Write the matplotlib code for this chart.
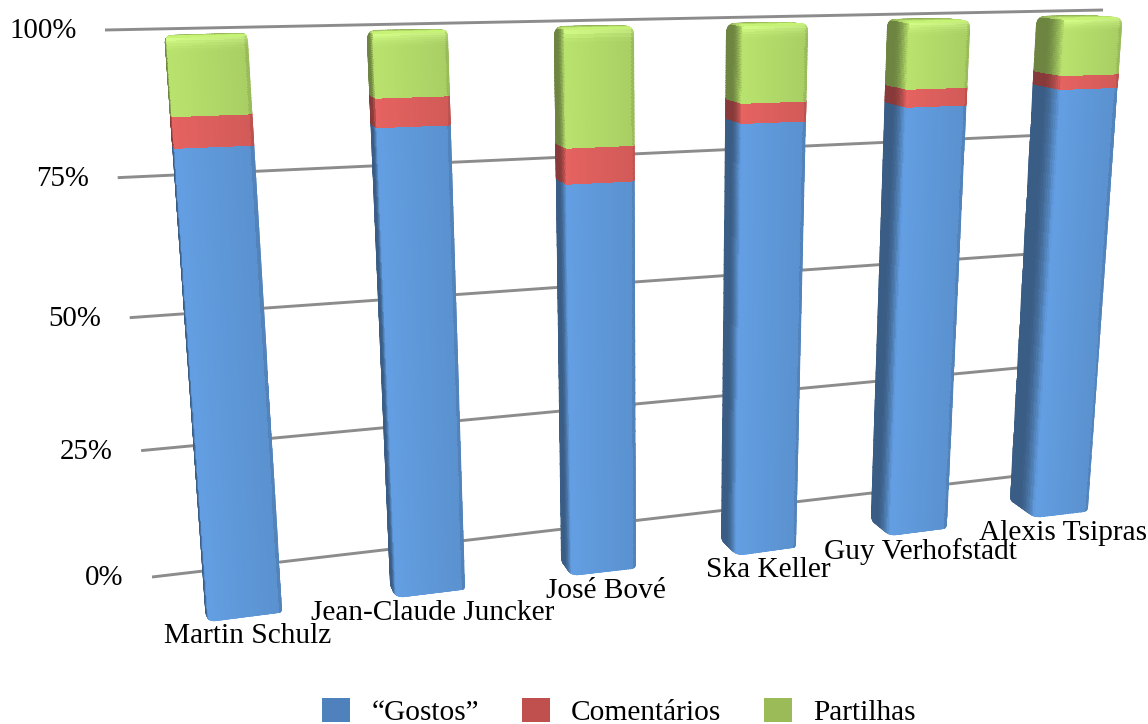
import numpy as np
import matplotlib
matplotlib.use("Agg")
import matplotlib.pyplot as plt
from matplotlib.patches import Patch
from matplotlib.path import Path

candidates = ["Martin Schulz", "Jean-Claude Juncker", "José Bové", "Ska Keller", "Guy Verhofstadt", "Alexis Tsipras"]
gostos = [82.4, 84.5, 73.4, 82.8, 84.6, 86.9]
comentarios = [5.1, 4.9, 6.3, 3.6, 3.3, 2.6]
partilhas = [12.5, 10.6, 20.3, 13.6, 12.1, 10.5]
series_names = ["“Gostos”", "Comentários", "Partilhas"]
legend_colors = ["#4F81BD", "#C0504D", "#9BBB59"]
y_ticks = [0, 25, 50, 75, 100]

# face colours of the bars
face_colors = [(0.38, 0.61, 0.87), (0.88, 0.38, 0.37), (0.71, 0.87, 0.42)]

bar_w = 0.38
x_min, x_max = -bar_w / 2, 5 + bar_w / 2


def homography(src, dst):
    rows, rhs = [], []
    for (x, y), (u, v) in zip(src, dst):
        rows.append([x, y, 1, 0, 0, 0, -u * x, -u * y])
        rows.append([0, 0, 0, x, y, 1, -v * x, -v * y])
        rhs += [u, v]
    return np.append(np.linalg.solve(np.array(rows, float), np.array(rhs, float)), 1).reshape(3, 3)


def apply_h(h, x, y):
    x, y = np.asarray(x, float), np.asarray(y, float)
    w = h[2, 0] * x + h[2, 1] * y + h[2, 2]
    return (h[0, 0] * x + h[0, 1] * y + h[0, 2]) / w, (h[1, 0] * x + h[1, 1] * y + h[1, 2]) / w


# perspective planes: front of the bars, back of the bars, rear wall
plane = [(x_min, 0), (x_max, 0), (x_min, 100), (x_max, 100)]
front_h = homography(plane, [(209, 622), (1088, 511), (167, 37), (1122, 18)])
back_h = homography(plane, [(205, 611), (1061, 494), (164, 35), (1091, 15)])
wall_h = homography([(0, 0), (1, 0), (0, 100), (1, 100)], [(152, 577), (1060, 471), (105, 30), (1103, 10)])


def project(x, y, z=0.0):
    fx, fy = apply_h(front_h, x, y)
    bx, by = apply_h(back_h, x, y)
    return (1 - z) * fx + z * bx, (1 - z) * fy + z * by


def rounded_outline(points, radii):
    verts, codes = [], []
    n = len(points)
    for i in range(n):
        p = np.array(points[i], float)
        prev_p = np.array(points[i - 1], float)
        next_p = np.array(points[(i + 1) % n], float)
        r = radii[i]
        a = p + (prev_p - p) * min(r / np.linalg.norm(prev_p - p), 0.5)
        b = p + (next_p - p) * min(r / np.linalg.norm(next_p - p), 0.5)
        verts.append(a)
        codes.append(Path.MOVETO if i == 0 else Path.LINETO)
        verts += [p, b]
        codes += [Path.CURVE3, Path.CURVE3]
    verts.append(verts[0])
    codes.append(Path.CLOSEPOLY)
    return Path(verts, codes)


def draw_mesh(ax, xs, ys, colors, clip):
    mesh = ax.pcolormesh(xs, ys, np.clip(colors, 0, 1), shading="flat", edgecolors="face", linewidth=0.3, zorder=3)
    mesh.set_clip_path(clip, transform=ax.transData)


def draw_bar(ax, i, values):
    x0, x1 = i - bar_w / 2, i + bar_w / 2
    outline_pts = [project(x0, 0, 1), project(x0, 100, 1), project(x1, 100, 1),
                   project(x1, 100, 0), project(x1, 0, 0), project(x0, 0, 0)]
    clip = rounded_outline(outline_pts, [4, 9, 8, 7, 4, 7])

    base = 0.0
    for k, val in enumerate(values):
        top = base + val
        color = np.array(face_colors[k])
        vs = np.linspace(base, top, 31)

        # side face, going from the back edge to the front edge
        zs = np.linspace(1, 0, 17)
        zz, vv = np.meshgrid(zs, vs)
        sx, sy = project(np.full_like(zz, x0), vv, zz)
        zc = (zs[:-1] + zs[1:]) / 2
        side_shade = 0.60 + 0.42 * np.clip((0.6 - zc) / 0.6, 0, 1) ** 1.6
        cols = np.ones((len(vs) - 1, len(zs) - 1, 3)) * side_shade[None, :, None] * color
        draw_mesh(ax, sx, sy, cols, clip)

        # front face, lighter on the left
        us = np.linspace(x0, x1, 33)
        uu, vv = np.meshgrid(us, vs)
        fx, fy = project(uu, vv, 0)
        uc = (us[:-1] + us[1:] - 2 * x0) / 2 / bar_w
        front_shade = 1.02 - 0.09 * uc
        front_shade = front_shade * (1 - 0.25 * np.clip((uc - 0.975) / 0.025, 0, 1))
        cols = np.ones((len(vs) - 1, len(us) - 1, 3)) * front_shade[None, :, None] * color
        if k == len(values) - 1:
            # bevel highlight along the top edge
            vc = (vs[:-1] + vs[1:]) / 2
            glow = np.clip((vc - (top - 2.5)) / 2.5, 0, 1)[:, None, None]
            cols = cols + glow ** 2 * 0.12
        draw_mesh(ax, fx, fy, cols, clip)
        base = top

    # top face
    color = np.array(face_colors[-1])
    zs = np.linspace(1, 0, 9)
    us = np.linspace(x0, x1, 33)
    uu, zz = np.meshgrid(us, zs)
    tx, ty = project(uu, np.full_like(uu, 100.0), zz)
    zc = (zs[:-1] + zs[1:]) / 2
    top_shade = 0.70 + 0.42 * (1 - zc)
    cols = np.ones((len(zs) - 1, len(us) - 1, 3)) * top_shade[:, None, None] * color
    draw_mesh(ax, tx, ty, cols, clip)


fig = plt.figure(figsize=(11.48, 7.24), dpi=100)
ax = fig.add_axes([0, 0, 1, 1])
ax.set_xlim(0, 1148)
ax.set_ylim(724, 0)
ax.axis("off")

plt.rcParams["font.family"] = ["Liberation Serif", "DejaVu Serif"]
font_size = 21.2

for tick in y_ticks:
    wx, wy = apply_h(wall_h, [0, 1], [tick, tick])
    ax.plot(wx, wy, color="#8C8C8C", lw=2.1, zorder=1, solid_capstyle="butt")
    ax.annotate(f"{tick}%", (wx[0], wy[0]), xytext=(-20.5, -1), textcoords="offset points",
                ha="right", va="center", fontsize=20.8, color="black")

for i, name in enumerate(candidates):
    draw_bar(ax, i, (gostos[i], comentarios[i], partilhas[i]))
    lx, ly = project(i, 0, 0)
    ax.annotate(name, (float(lx), float(ly)), xytext=(1.2, -13.6), textcoords="offset points",
                ha="center", va="center", fontsize=font_size, color="black", zorder=5)

handles = [Patch(facecolor=c, label=n) for c, n in zip(legend_colors, series_names)]
ax.legend(handles=handles, ncol=3, frameon=False, fontsize=font_size, loc="lower left",
          bbox_to_anchor=(322, 726), bbox_transform=ax.transData, borderpad=0, borderaxespad=0,
          handlelength=0.96, handleheight=0.9, handletextpad=0.72, columnspacing=1.45)

fig.savefig("out.png", dpi=100)
